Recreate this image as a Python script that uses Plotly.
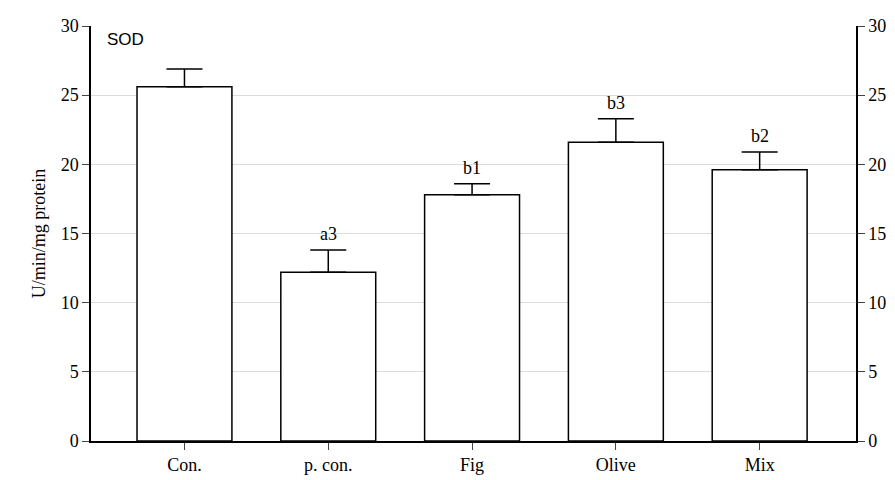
import plotly.graph_objects as go

categories = ["Con.", "p. con.", "Fig", "Olive", "Mix"]
values = [25.6, 12.2, 17.8, 21.6, 19.6]
errors = [1.3, 1.6, 0.8, 1.7, 1.3]
labels = ["", "a3", "b1", "b3", "b2"]
yticks = [0, 5, 10, 15, 20, 25, 30]

xs = list(range(len(categories)))
font = dict(family="Liberation Serif, Times New Roman, serif", size=18, color="black")

fig = go.Figure()
fig.add_trace(go.Bar(
    x=xs, y=values, width=0.66,
    marker=dict(color="white", line=dict(color="black", width=1.5)),
    error_y=dict(type="data", array=errors, arrayminus=[0]*len(errors), symmetric=False,
                 color="black", thickness=1.5, width=18),
    showlegend=False,
))
fig.add_trace(go.Scatter(x=[xs[0]], y=[0], yaxis="y2", mode="markers",
                         marker=dict(opacity=0), showlegend=False, hoverinfo="skip"))
for x, v, e, t in zip(xs, values, errors, labels):
    if t:
        fig.add_annotation(x=x, y=v + e, text=t, showarrow=False, yshift=16, font=font)
fig.add_annotation(xref="paper", yref="paper", x=0.018, y=0.995, text="SOD", showarrow=False,
                   xanchor="left", yanchor="top",
                   font=dict(family="Liberation Sans, Arial", size=17, color="black"))

axis_common = dict(range=[0, 30], tickvals=yticks, ticks="outside", ticklen=7,
                   showline=True, linecolor="black", linewidth=1.5, tickfont=font,
                   zeroline=False, automargin=False)
fig.update_layout(
    width=895, height=480, plot_bgcolor="white", paper_bgcolor="white",
    margin=dict(l=83, r=47, t=18, b=47),
    font=font,
    xaxis=dict(range=[-0.65, 4.67], tickvals=xs, ticktext=categories, ticks="outside",
               ticklen=7, showline=True, linecolor="black", linewidth=1.5, tickfont=font,
               showgrid=False, automargin=False),
    yaxis=dict(**axis_common, showgrid=True, gridcolor="#dcdcdc", gridwidth=1,
               title=dict(text="U/min/mg protein", font=font, standoff=10)),
    yaxis2=dict(**axis_common, overlaying="y", side="right", showgrid=False),
)
fig.write_html("out.html")
